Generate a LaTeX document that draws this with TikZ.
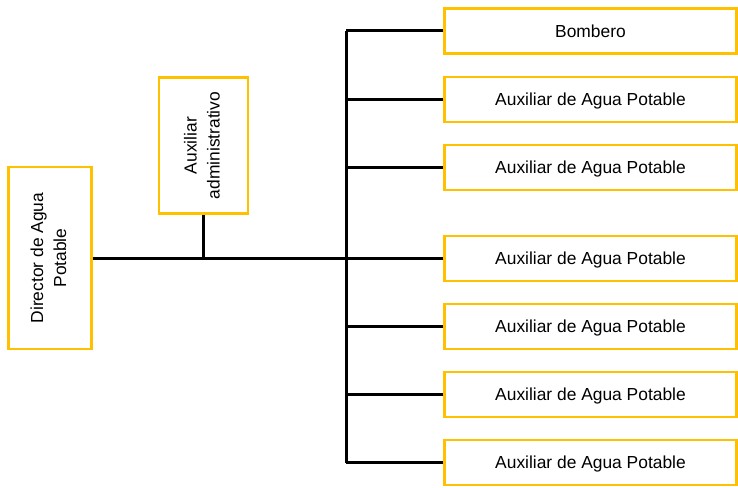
\documentclass[tikz,border=0pt]{standalone}
\usepackage{fontspec}
\setmainfont{Liberation Sans}
\begin{document}
\begin{tikzpicture}[x=1pt,y=-1pt,
  box/.style={draw=orgc,line width=2.7pt,fill=white,inner sep=0pt,align=center,font=\fontsize{17.4}{23}\selectfont},
  rbox/.style={box,minimum width=292pt,minimum height=45pt,text depth=0pt},
  conn/.style={draw=black,line width=3pt}]
\definecolor{orgc}{HTML}{FFC000}
\useasboundingbox (0,0) rectangle (738,487);
\node[box,minimum width=83pt,minimum height=182pt] (dir) at (50,258) {\rotatebox{90}{\begin{tabular}{@{}c@{}}Director de Agua\\Potable\end{tabular}}};
\node[box,minimum width=89pt,minimum height=136pt] (adm) at (203.5,145.5) {\rotatebox{90}{\begin{tabular}{@{}c@{}}Auxiliar\\administrativo\end{tabular}}};
\foreach \n/\y/\t in {b1/31/Bombero,b2/99.5/Auxiliar de Agua Potable,b3/167.5/Auxiliar de Agua Potable,b4/258.5/Auxiliar de Agua Potable,b5/326.5/Auxiliar de Agua Potable,b6/394.5/Auxiliar de Agua Potable,b7/462.5/Auxiliar de Agua Potable}
  \node[rbox] (\n) at (590.5,\y) {\t};
\coordinate (top) at (346,31);
\coordinate (bot) at (346,462.5);
\coordinate (mid) at (346,258.5);
\draw[conn] (dir.east |- mid) -- (mid);
\draw[conn] (adm.south) -- (adm.south |- mid);
\draw[conn] (top) -- (bot);
\foreach \n in {b1,b2,b3,b4,b5,b6,b7}
  \draw[conn] (\n.west) -- (top |- \n.west);
\end{tikzpicture}
\end{document}
